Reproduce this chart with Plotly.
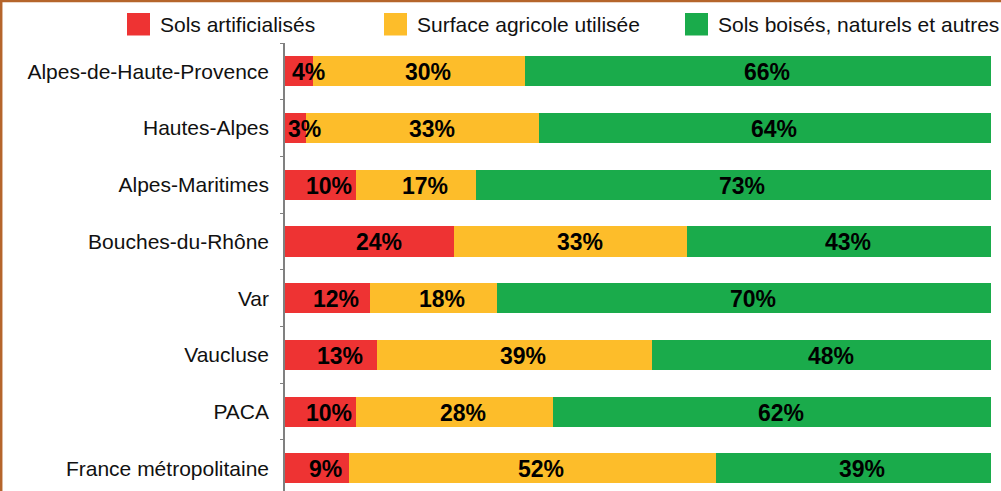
import numpy as np
import plotly.graph_objects as go

categories = ["Alpes-de-Haute-Provence", "Hautes-Alpes", "Alpes-Maritimes",
              "Bouches-du-Rhône", "Var", "Vaucluse", "PACA", "France métropolitaine"]
series_names = ["Sols artificialisés", "Surface agricole utilisée", "Sols boisés, naturels et autres"]
artificialises = [4, 3, 10, 24, 12, 13, 10, 9]
agricole = [30, 33, 17, 33, 18, 39, 28, 52]
boises = [66, 64, 73, 43, 70, 48, 62, 39]
colors = ["#EE3333", "#FDBD2A", "#1AAB4B"]

W, H = 1001, 491
ML, MR, MT, MB = 285, 10, 43, 0
PW, PH = W - ML - MR, H - MT - MB

def px_x(p):
    return (p - ML) / PW

def px_y(p):
    return (H - MB - p) / PH

fig = go.Figure()
series = [artificialises, agricole, boises]
base = np.zeros(len(categories))
annotations = []
for name, vals, col in zip(series_names, series, colors):
    vals = np.array(vals, dtype=float)
    fig.add_trace(go.Bar(
        y=categories, x=vals, base=base, orientation="h", name=name,
        marker=dict(color=col, line=dict(width=0)), width=0.53,
        showlegend=False, hoverinfo="skip",
    ))
    for cat, b, v in zip(categories, base, vals):
        annotations.append(dict(
            x=b + v / 2, y=cat, xref="x", yref="y", text=f"{int(v)}%",
            showarrow=False, xshift=9, yshift=-1,
            font=dict(family="Liberation Sans, Arial", size=23, color="black", weight="bold"),
        ))
    base = base + vals

# custom legend
leg_sq = [(127, 150), (384, 407), (685, 708)]
leg_txt_x = [158, 415, 716]
shapes = []
for (x0, x1), tx, name, col in zip(leg_sq, leg_txt_x, series_names, colors):
    shapes.append(dict(type="rect", xref="paper", yref="paper",
                       x0=px_x(x0), x1=px_x(x1), y0=px_y(35.5), y1=px_y(13),
                       fillcolor=col, line=dict(width=0)))
    annotations.append(dict(x=px_x(tx), y=px_y(24.5), xref="paper", yref="paper",
                            xanchor="left", yanchor="middle", text=name, showarrow=False,
                            font=dict(family="Liberation Sans, Arial", size=21, color="#111111")))

# brown frame (top and left)
shapes.append(dict(type="path", xref="paper", yref="paper",
                   path=f"M {px_x(1.2)} {px_y(496)} L {px_x(1.2)} {px_y(1)} L {px_x(1006)} {px_y(1)}",
                   line=dict(color="#B5652B", width=2.5)))

fig.update_layout(
    width=W, height=H,
    margin=dict(l=ML, r=MR, t=MT, b=MB, pad=0),
    barmode="stack",
    plot_bgcolor="white", paper_bgcolor="white",
    xaxis=dict(range=[0, 100], visible=False, fixedrange=True),
    yaxis=dict(type="category", categoryorder="array", categoryarray=categories,
               range=[7.40, -0.5], showline=True, linecolor="#808080", linewidth=1.5,
               ticks="outside", tickson="boundaries", ticklen=3, tickcolor="#808080",
               tickwidth=1.2, showgrid=False, zeroline=False, ticklabelstandoff=10,
               fixedrange=True,
               tickfont=dict(family="Liberation Sans, Arial", size=21, color="#111111")),
    annotations=annotations,
    shapes=shapes,
    showlegend=False,
)

fig.write_html("out.html", config={"displayModeBar": False},
               post_script="document.body.style.margin='0';document.body.style.overflow='hidden';")
